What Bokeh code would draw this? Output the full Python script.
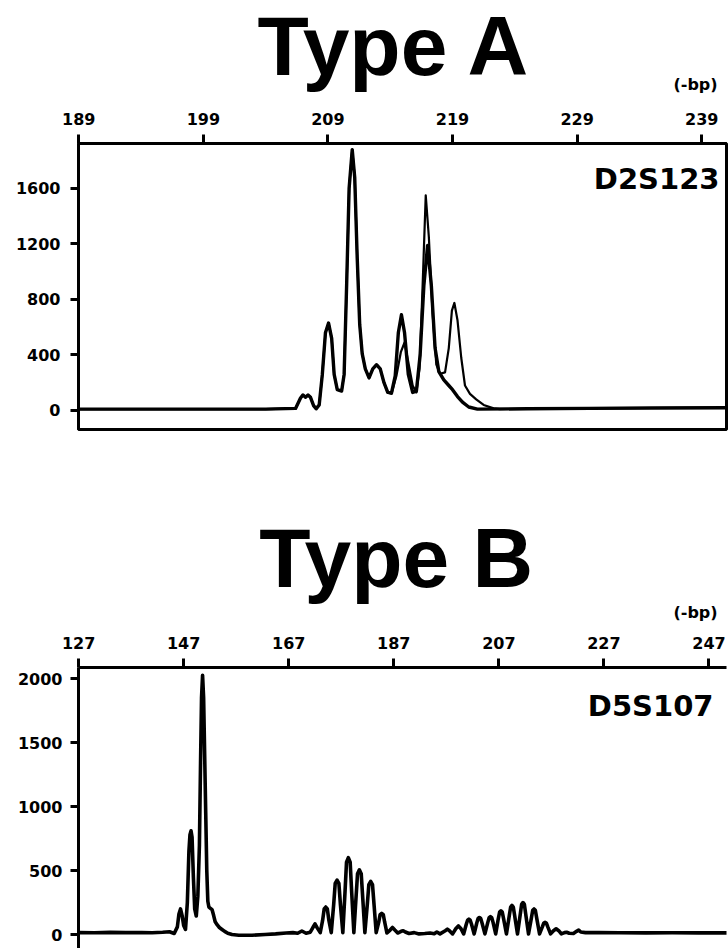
from bokeh.plotting import figure
from bokeh.models import Range1d, FixedTicker, Label
from bokeh.layouts import column
from bokeh.embed import file_html
from bokeh.resources import INLINE
from bokeh.core.properties import value

# ---------------- Type A : D2S123 (two overlaid traces) ----------------
d2_xticks = [189, 199, 209, 219, 229, 239]
d2_yticks = [0, 400, 800, 1200, 1600]

# shared part of both traces (bp, fluorescence)
d2_common = [
    (189, 10), (195, 10), (200, 10), (204, 10), (206.4, 15), (206.8, 90),
    (207.0, 112), (207.2, 96), (207.4, 112), (207.6, 95), (207.85, 35),
    (208.05, 12), (208.3, 40), (208.55, 260), (208.8, 560), (209.05, 630),
    (209.3, 520), (209.5, 260), (209.75, 150), (210.1, 140), (210.3, 260),
    (210.5, 900), (210.7, 1600), (210.95, 1880), (211.15, 1680),
    (211.35, 1100), (211.55, 620), (211.75, 410), (212.0, 300),
    (212.3, 235), (212.6, 300), (212.9, 330), (213.2, 300), (213.5, 200),
    (213.8, 130),
]
# normal tissue trace (heavier line)
d2_normal_tail = [
    (214.1, 125), (214.4, 250), (214.65, 560), (214.9, 690), (215.15, 560),
    (215.45, 260), (215.8, 130), (216.1, 140), (216.4, 400), (216.7, 900),
    (217.0, 1190), (217.3, 900), (217.6, 450), (217.9, 280), (218.3, 220),
    (218.7, 180), (219.0, 150), (219.4, 100), (219.8, 60), (220.3, 25),
    (221.0, 10), (225, 12), (230, 15), (235, 18), (241, 20),
]
# tumour trace (thinner line)
d2_tumor_tail = [
    (214.1, 120), (214.5, 250), (214.85, 420), (215.15, 490), (215.45, 350),
    (215.8, 180), (216.1, 130), (216.35, 300), (216.6, 900), (216.85, 1550),
    (217.1, 1250), (217.4, 700), (217.7, 330), (218.0, 265), (218.4, 275),
    (218.7, 450), (218.95, 720), (219.15, 775), (219.4, 650), (219.7, 380),
    (220.0, 180), (220.4, 120), (220.9, 80), (221.5, 40), (222.3, 15),
    (222.8, 10), (225, 12), (230, 15), (235, 18), (241, 20),
]

# ---------------- Type B : D5S107 ----------------
d5_xticks = [127, 147, 167, 187, 207, 227, 247]
d5_yticks = [0, 500, 1000, 1500, 2000]

d5_lead = [
    (127, 15), (130, 14), (133, 17), (136, 15), (139, 16), (141, 14),
    (143, 18), (144.3, 22), (145.2, 8),
]
d5_main = [
    (145.8, 60), (146.1, 160), (146.4, 200), (146.7, 150), (147.0, 70),
    (147.35, 40), (147.7, 250), (148.0, 650), (148.2, 780), (148.4, 810),
    (148.6, 760), (148.85, 450), (149.1, 200), (149.4, 145), (149.7, 300),
    (150.0, 700), (150.2, 1300), (150.4, 1850), (150.6, 2025), (150.8, 1850),
    (151.0, 1400), (151.2, 950), (151.4, 500), (151.6, 260), (151.8, 215),
    (152.1, 205), (152.4, 195), (152.7, 150), (153.0, 100), (153.4, 75),
    (153.8, 55), (154.3, 40), (154.8, 25), (155.4, 10), (156.2, 0),
    (157.5, -5), (160, -5), (162.5, 0), (164.5, 5), (166.5, 12),
    (167.8, 15), (168.7, 10), (169.5, 28), (170.3, 10), (171.1, 18),
]
d5_mid = [
    (171.6, 55), (172.0, 83), (172.45, 50), (173.0, 15), (173.45, 110),
    (173.75, 200), (174.05, 215), (174.35, 200), (174.65, 110), (175.1, 15),
    (175.55, 230), (175.85, 400), (176.2, 425), (176.55, 400), (176.85, 230),
    (177.3, 15), (177.7, 320), (178.0, 565), (178.35, 600), (178.7, 565),
    (179.0, 320), (179.4, 15), (179.8, 280), (180.1, 475), (180.45, 505),
    (180.8, 475), (181.1, 280), (181.5, 15), (181.95, 230), (182.25, 390),
    (182.6, 415), (182.95, 390), (183.25, 230), (183.65, 15), (184.15, 100),
    (184.4, 155), (184.7, 165), (185.0, 155), (185.25, 100), (185.7, 12),
    (186.3, 35), (186.75, 55), (187.2, 35), (187.75, 12), (188.4, 25),
    (188.8, 30), (189.2, 20), (189.9, 8), (190.9, 15), (191.8, 5),
    (192.9, 8), (193.9, 12), (194.7, 6),
]
d5_late = [
    (195.2, 20), (195.8, 5), (196.8, 30), (197.2, 42), (197.6, 30),
    (198.2, 5), (198.8, 45), (199.3, 68), (199.8, 45), (200.3, 5),
    (200.8, 80), (201.05, 112), (201.3, 120), (201.55, 112), (201.8, 80),
    (202.3, 5), (202.8, 90), (203.05, 125), (203.3, 133), (203.55, 125),
    (203.8, 90), (204.35, 5), (204.9, 95), (205.15, 132), (205.4, 140),
    (205.65, 132), (205.9, 95), (206.4, 5), (206.9, 125), (207.15, 175),
    (207.4, 185), (207.65, 175), (207.9, 125), (208.45, 5), (209.0, 150),
    (209.25, 215), (209.5, 228), (209.75, 215), (210.0, 150), (210.55, 5),
    (211.1, 165), (211.35, 238), (211.6, 250), (211.85, 238), (212.1, 165),
    (212.65, 5), (213.2, 130), (213.45, 190), (213.7, 200), (213.95, 190),
    (214.2, 130), (214.75, 5), (215.3, 62), (215.55, 90), (215.8, 95),
    (216.05, 90), (216.3, 62), (216.85, 5), (217.4, 30), (217.9, 45),
    (218.4, 30), (218.9, 5), (219.5, 15), (219.9, 18), (220.4, 10),
    (221.2, 8), (221.8, 25), (222.2, 35), (222.6, 20), (223.5, 15),
    (226, 15), (230, 14), (235, 13), (240, 14), (245, 13), (250.5, 13),
]


def split(points):
    return [p[0] for p in points], [p[1] for p in points]


def style(p, xticks, yticks, ystandoff):
    p.xaxis.ticker = FixedTicker(ticks=xticks)
    p.yaxis.ticker = FixedTicker(ticks=yticks)
    for ax in (p.xaxis[0], p.yaxis[0]):
        ax.axis_line_width = 3
        ax.axis_line_color = "black"
        ax.major_tick_line_width = 3
        ax.major_tick_line_color = "black"
        ax.major_tick_in = 0
        ax.minor_tick_line_color = None
        ax.major_label_text_font = "DejaVu Sans"
        ax.major_label_text_font_style = "bold"
        ax.major_label_text_font_size = "16px"
        ax.major_label_text_color = "black"
    p.xaxis.major_tick_out = 9
    p.yaxis.major_tick_out = 8
    p.xaxis.major_label_standoff = 10
    p.yaxis.major_label_standoff = ystandoff
    p.xgrid.visible = False
    p.ygrid.visible = False
    p.background_fill_color = "white"
    p.border_fill_color = "white"


def title_strip(height, title, title_x, title_y, bp_y):
    t = figure(width=728, height=height, output_backend="svg",
               toolbar_location=None, title=None,
               x_axis_location=None, y_axis_location=None,
               x_range=Range1d(0, 728), y_range=Range1d(0, height),
               min_border=0)
    t.outline_line_color = None
    t.grid.visible = False
    t.background_fill_color = "white"
    t.border_fill_color = "white"
    t.text(x=[title_x], y=[title_y], text=[title],
           text_font=value("Liberation Sans"), text_font_style="bold",
           text_font_size="84px", text_align="center",
           text_baseline="alphabetic", text_color="black")
    t.text(x=[718], y=[bp_y], text=["(-bp)"],
           text_font=value("DejaVu Sans"), text_font_style="bold",
           text_font_size="16px", text_align="right",
           text_baseline="middle", text_color="black")
    return t


def marker_label(text, x, y):
    return Label(x=x, y=y, x_units="screen", y_units="screen", text=text,
                 text_font="DejaVu Sans", text_font_style="bold",
                 text_font_size="29px", text_align="right",
                 text_baseline="alphabetic", text_color="black")


# ---------- Type A ----------
t1 = title_strip(100, "Type A", 355, 55, 16)

p1 = figure(width=728, height=380, output_backend="svg", toolbar_location=None,
            x_axis_location="above", title=None,
            x_range=Range1d(188.98, 240.99), y_range=Range1d(-137, 1924),
            min_border_left=75, min_border_right=2,
            min_border_top=43, min_border_bottom=51)
style(p1, d2_xticks, d2_yticks, 10)
p1.outline_line_color = "black"
p1.outline_line_width = 3

nx, ny = split(d2_common + d2_normal_tail)
tx, ty = split(d2_common + d2_tumor_tail)
p1.line(tx, ty, line_color="black", line_width=2.2, line_join="round")
p1.line(nx, ny, line_color="black", line_width=3.4, line_join="round")
p1.add_layout(marker_label("D2S123", 641, 251))

# ---------- Type B ----------
t2 = title_strip(148, "Type B", 357, 71, 16)

p2 = figure(width=728, height=320, output_backend="svg", toolbar_location=None,
            x_axis_location="above", title=None,
            x_range=Range1d(126.98, 250.34), y_range=Range1d(-109, 2086),
            min_border_left=78, min_border_right=0,
            min_border_top=39, min_border_bottom=0)
style(p2, d5_xticks, d5_yticks, 8)
p2.outline_line_color = None

bx, by = split(d5_lead + d5_main + d5_mid + d5_late)
p2.line(bx, by, line_color="black", line_width=3.6, line_join="round")
p2.add_layout(marker_label("D5S107", 635, 243))

layout = column(t1, p1, t2, p2, spacing=0)
open("out.html", "w").write(file_html(layout, INLINE))
